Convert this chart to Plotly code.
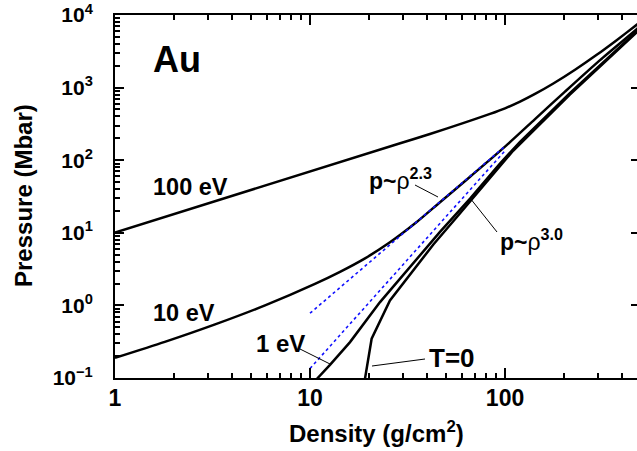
import plotly.graph_objects as go
import math

# ---------------- data ----------------
rho_100eV = [1.0, 29.0, 41.2, 60.9, 83.8, 100, 119.4, 142.5, 176, 228.6, 296.5, 375, 475, 520]
p_100eV = [10.1, 171, 230, 324, 434, 518, 641, 818, 1130, 1763, 2853, 4543, 7373, 8920]

rho_10eV = [1.0, 1.80, 3.26, 5.88, 10.6, 14.25, 19.15, 25.7, 34.6, 46.4, 66.2, 100, 142.5,
            203, 307, 475, 520]
p_10eV = [0.189, 0.314, 0.547, 1.0, 1.98, 2.90, 4.45, 7.39, 13.5, 26.4, 59.2, 153.6, 368,
          881, 2393, 6410, 7970]

rho_1eV = [10.2, 10.95, 12.66, 16.04, 22.86, 32.6, 46.4, 66.2, 94.2, 119.4, 215, 475, 520]
p_1eV = [0.08, 0.1, 0.152, 0.312, 1.11, 3.37, 10.3, 29.6, 90, 179, 840, 6010, 7540]

rho_T0 = [18.9, 20.7, 25.7, 32.6, 42.9, 56.5, 80.5, 110, 215, 475, 520]
p_T0 = [0.08, 0.348, 1.17, 2.7, 6.9, 16.4, 51, 135, 800, 5850, 7340]

fit_rho = [10, 100]
fit23_p = [0.78, 156]
fit30_p = [0.135, 135]

x_tickvals = [1, 10, 100]
x_ticktext = ["1", "10", "100"]
x_minor = [2, 3, 4, 5, 6, 7, 8, 9, 20, 30, 40, 50, 60, 70, 80, 90, 200, 300, 400]
y_tickvals = [0.1, 1, 10, 100, 1000, 10000]
y_ticktext = ["10<sup>\u22121</sup>", "10<sup>0</sup>", "10<sup>1</sup>",
              "10<sup>2</sup>", "10<sup>3</sup>", "10<sup>4</sup>"]
y_minor = [m * 10 ** e for e in range(-1, 4) for m in range(2, 10)]

# ---------------- figure ----------------
W, H = 637, 451
ML, MR, MT, MB = 115, 0, 15, 73
PW, PH = W - ML - MR, H - MT - MB
XMAX = 475
YMIN, YMAX = -1, 4
FONT = "Liberation Sans, Arial, Helvetica, sans-serif"


def xp(px):
    return (px - ML) / PW


def yp(py):
    return (H - MB - py) / PH


def xd(px):  # pixel -> data (density)
    return 10 ** (xp(px) * math.log10(XMAX))


def yd(py):  # pixel -> data (pressure)
    return 10 ** (YMIN + yp(py) * (YMAX - YMIN))


fig = go.Figure()
curve = dict(color="black", width=2.5)
fig.add_trace(go.Scatter(x=rho_100eV, y=p_100eV, mode="lines",
                         line=dict(shape="spline", smoothing=0.5, **curve)))
fig.add_trace(go.Scatter(x=rho_10eV, y=p_10eV, mode="lines",
                         line=dict(shape="spline", smoothing=0.7, **curve)))
fig.add_trace(go.Scatter(x=rho_1eV, y=p_1eV, mode="lines", line=curve))
fig.add_trace(go.Scatter(x=rho_T0, y=p_T0, mode="lines", line=curve))
dot = dict(color="#1010ff", width=1.6, dash="dot")
fig.add_trace(go.Scatter(x=fit_rho, y=fit23_p, mode="lines", line=dot))
fig.add_trace(go.Scatter(x=fit_rho, y=fit30_p, mode="lines", line=dot))

# thin leader lines from the labels to the curves
leaders = [((300, 349), (330, 364)),
           ((372, 366), (425, 359)),
           ((415, 185), (438, 197)),
           ((470, 198), (497, 232))]
for (a, b) in leaders:
    fig.add_trace(go.Scatter(x=[xd(a[0]), xd(b[0])], y=[yd(a[1]), yd(b[1])], mode="lines",
                             line=dict(color="black", width=1), hoverinfo="skip"))

# helper trace so the right-hand tick axis exists
fig.add_trace(go.Scatter(x=[1], y=[1], yaxis="y2", mode="markers",
                         marker=dict(opacity=0), hoverinfo="skip"))

xtickfont = dict(family=FONT, size=23, color="black", weight="bold")
ytickfont = dict(family=FONT, size=21, color="black", weight="bold")
fig.update_layout(
    width=W, height=H, margin=dict(l=ML, r=MR, t=MT, b=MB, pad=0),
    paper_bgcolor="white", plot_bgcolor="white", showlegend=False,
    xaxis=dict(type="log", range=[0, math.log10(XMAX)], showgrid=False, zeroline=False,
               showline=True, linecolor="black", linewidth=2, mirror="ticks",
               ticks="inside", ticklen=10, tickwidth=2, tickcolor="black",
               tickvals=x_tickvals, ticktext=x_ticktext, tickfont=xtickfont,
               ticklabelstandoff=-2,
               minor=dict(tickvals=x_minor, ticks="inside", ticklen=5, tickwidth=1.5,
                          tickcolor="black", showgrid=False)),
    yaxis=dict(type="log", range=[YMIN, YMAX], showgrid=False, zeroline=False,
               showline=True, linecolor="black", linewidth=2, mirror=False,
               ticks="inside", ticklen=9, tickwidth=2, tickcolor="black",
               tickvals=y_tickvals, ticktext=y_ticktext, tickfont=ytickfont,
               ticklabelstandoff=16,
               minor=dict(tickvals=y_minor, ticks="inside", ticklen=5, tickwidth=1.5,
                          tickcolor="black", showgrid=False)),
    yaxis2=dict(type="log", range=[YMIN, YMAX], overlaying="y", side="right", anchor="x",
                showgrid=False, zeroline=False, showline=False, ticks="inside",
                ticklen=6, tickwidth=2, tickcolor="black", tickvals=y_tickvals,
                showticklabels=False),
)


def label(text, px, py, size=23, weight="bold", angle=0):
    fig.add_annotation(text=text, x=xp(px), y=yp(py), xref="paper", yref="paper",
                       showarrow=False, xanchor="center", yanchor="middle",
                       textangle=angle,
                       font=dict(family=FONT, size=size, color="black", weight=weight))


label("Au", 177, 59, size=36)
label("100 eV", 190, 187, size=23.5)
label("10 eV", 184, 313, size=23.5)
label("1 eV", 280, 343, size=24)
label("T=0", 452, 358, size=26)
label("<b>p~</b>\u03c1<sup><b>2.3</b></sup>", 400, 179, size=23, weight="normal")
label("<b>p~</b>\u03c1<sup><b>3.0</b></sup>", 531, 240, size=23, weight="normal")
label("Pressure (Mbar)", 23, 196, size=24, angle=-90)
label("Density (g/cm<sup>2</sup>)", 376, 432, size=24)

fig.write_html("out.html")
